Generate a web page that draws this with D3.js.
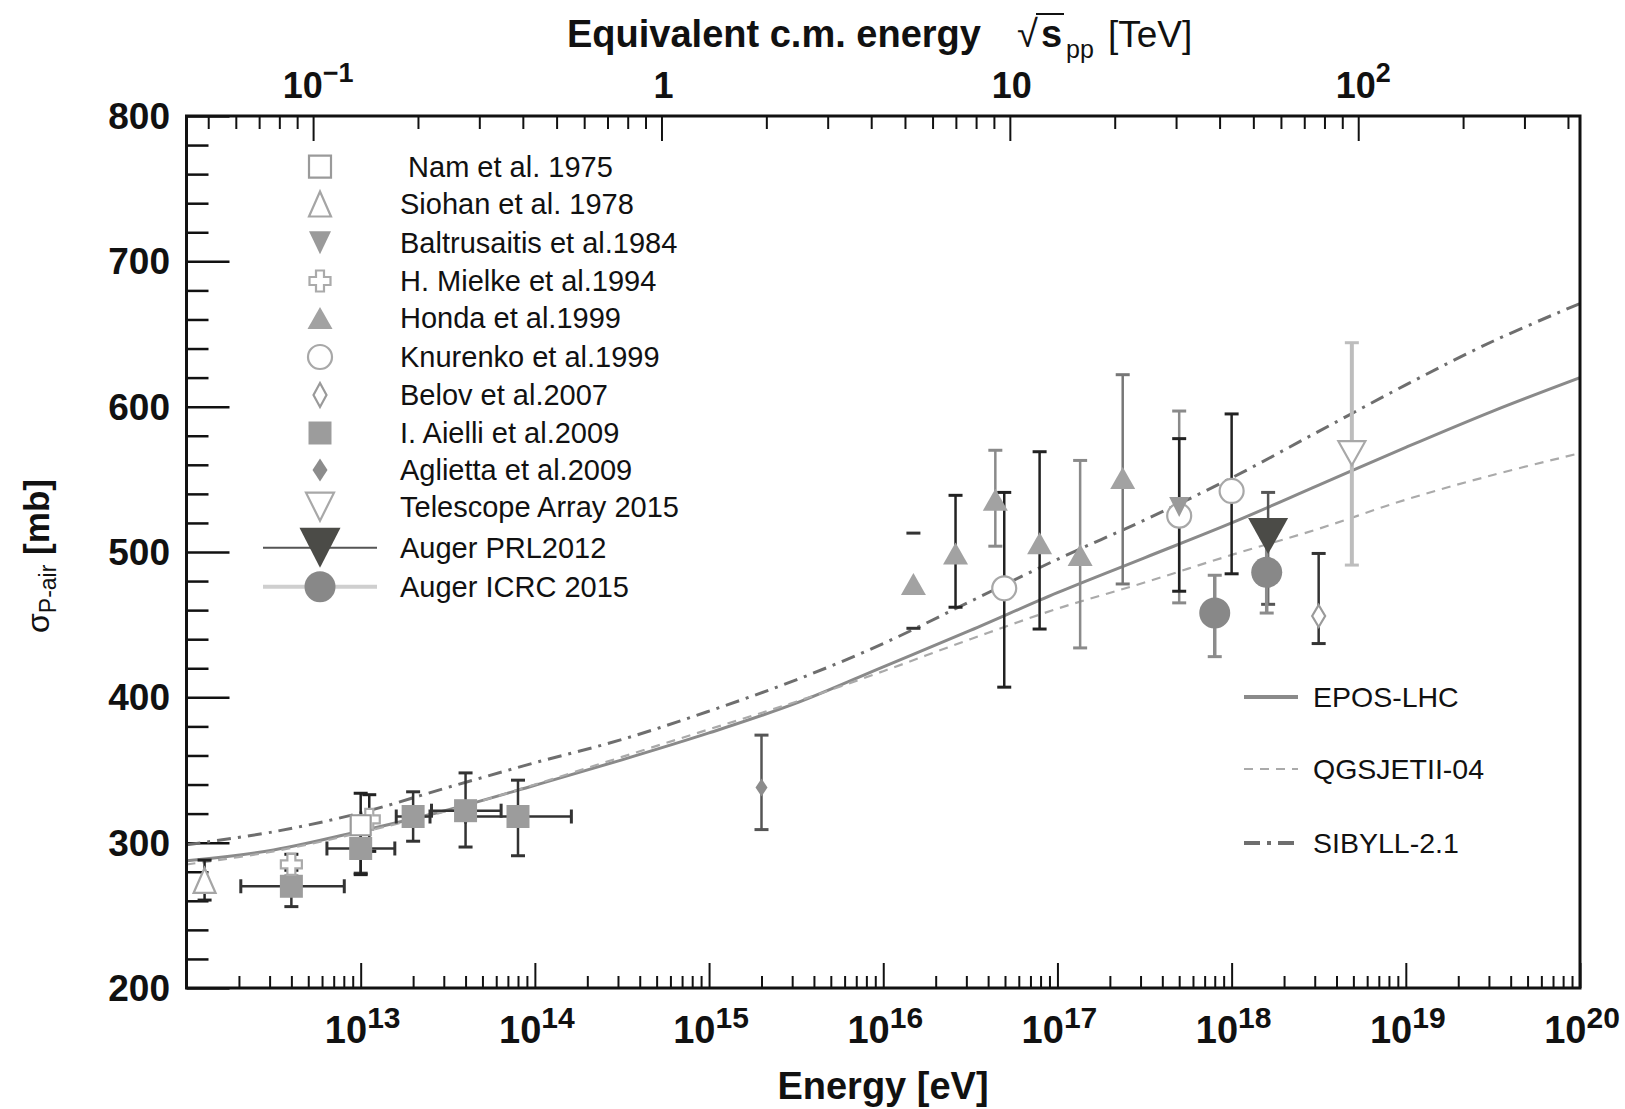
<!DOCTYPE html>
<html><head><meta charset="utf-8">
<script src="https://cdn.jsdelivr.net/npm/d3@7"></script>
<style>
body{margin:0;background:#fff}
svg{display:block}
text{font-family:"Liberation Sans", Arial, Helvetica, sans-serif; fill:#111}
</style>
</head><body>
<svg id="chart" width="1625" height="1109"></svg>
<script>
// ---------------- DATA ----------------
const curveEnergy = [1e12, 3.162e12, 1e13, 3.162e13, 1e14, 3.162e14, 1e15, 3.162e15, 1e16, 3.162e16, 1e17, 3.162e17, 1e18, 3.162e18, 1e19, 3.162e19, 1e20];
const eposLHC    = [287.5, 295, 308, 322.5, 339.5, 357, 375.5, 396, 421, 446, 472, 496, 520, 546, 572, 597, 620];
const qgsjetII04 = [285, 294, 307, 322, 340, 359, 378, 397, 418, 440, 461, 479, 498, 516, 536, 553, 568];
const sibyll21   = [298.5, 307.5, 320.5, 338, 355, 371, 390.5, 412, 437, 466, 495, 522, 551, 583, 615, 645, 671];

const nam1975 = [{E:1.0e13, s:312, lo:278, hi:334}];
const siohan1978 = [{E:1.27e12, s:274, lo:260.5, hi:288}];
const baltrusaitis1984 = [{E:5.0e17, s:531, lo:465, hi:597}];
const mielke1994 = [{E:4.0e12, s:285, lo:281, hi:292}, {E:1.12e13, s:316, lo:294, hi:333}];
const honda1999 = [
  {E:1.49e16, s:478, lo:447.5, hi:513},
  {E:2.6e16, s:499, lo:462, hi:539},
  {E:4.4e16, s:536, lo:504, hi:570},
  {E:7.9e16, s:506, lo:447, hi:569},
  {E:1.35e17, s:498, lo:434, hi:563},
  {E:2.37e17, s:551, lo:478, hi:622}
];
const knurenko1999 = [
  {E:4.95e16, s:475, lo:407, hi:541},
  {E:5.0e17, s:525, lo:473, hi:578},
  {E:1.0e18, s:542, lo:485, hi:595}
];
const belov2007 = [{E:3.16e18, s:456, lo:437, hi:499}];
const aielli2009 = [
  {E:4.0e12, s:270, lo:256, hi:277, Elo:2.05e12, Ehi:8.05e12},
  {E:1.0e13, s:296, lo:279, hi:313, Elo:6.4e12, Ehi:1.57e13},
  {E:2.0e13, s:318, lo:301, hi:335, Elo:1.6e13, Ehi:2.5e13},
  {E:4.0e13, s:322, lo:297, hi:348, Elo:2.55e13, Ehi:6.4e13},
  {E:8.0e13, s:318, lo:291, hi:343, Elo:4.0e13, Ehi:1.62e14}
];
const aglietta2009 = [{E:2.0e15, s:338, lo:309, hi:374}];
const telescopeArray2015 = [{E:4.9e18, s:568, lo:491, hi:644}];
const augerPRL2012 = [{E:1.62e18, s:511, lo:464, hi:541}];
const augerICRC2015 = [{E:8.0e17, s:458, lo:428, hi:484}, {E:1.59e18, s:486, lo:458, hi:510}];

const legendLabels = [" Nam et al. 1975", "Siohan et al. 1978", "Baltrusaitis et al.1984", "H. Mielke et al.1994",
  "Honda et al.1999", "Knurenko et al.1999", "Belov et al.2007", "I. Aielli et al.2009", "Aglietta et al.2009",
  "Telescope Array 2015", "Auger PRL2012", "Auger ICRC 2015"];
const modelLabels = ["EPOS-LHC", "QGSJETII-04", "SIBYLL-2.1"];
const bottomTickExponents = [13, 14, 15, 16, 17, 18, 19, 20];
const topTickValues = [0.1, 1, 10, 100];
const topTickLabels = [["10", "\u22121"], ["1", ""], ["10", ""], ["10", "2"]];
const yTickValues = [200, 300, 400, 500, 600, 700, 800];

// ---------------- LAYOUT ----------------
const svg = d3.select("#chart");
const L = 186.5, R = 1580, T = 116, B = 988;
const x = d3.scaleLog().domain([1e12, 1e20]).range([L, R]);
const y = d3.scaleLinear().domain([200, 800]).range([B, T]);
const MP = 0.938e9; // proton mass, eV
const xTop = d3.scaleLog().domain([Math.sqrt(2*MP*1e12)/1e12, Math.sqrt(2*MP*1e20)/1e12]).range([L, R]);

svg.append("rect").attr("width",1625).attr("height",1109).attr("fill","#fff");

// ---------------- AXES ----------------
function styleAxis(g, w){ g.selectAll(".domain").remove(); g.selectAll("line").attr("stroke","#111").attr("stroke-width", w); g.selectAll("text").remove(); }

const bottomMajor = d3.range(12, 21).map(e => Math.pow(10, e));
const bottomMinor = [];
for (let e = 12; e < 20; e++) for (let k = 2; k <= 9; k++) bottomMinor.push(k*Math.pow(10, e));
svg.append("g").attr("transform", `translate(0,${B})`)
  .call(d3.axisBottom(x).tickValues(bottomMajor).tickSizeInner(-25).tickSizeOuter(0).tickFormat(""))
  .call(g => styleAxis(g, 2));
svg.append("g").attr("transform", `translate(0,${B})`)
  .call(d3.axisBottom(x).tickValues(bottomMinor).tickSizeInner(-12).tickSizeOuter(0).tickFormat(""))
  .call(g => styleAxis(g, 2));

const [t0, t1] = xTop.domain();
const topMinor = [];
for (let e = -2; e <= 2; e++) for (let k = 2; k <= 9; k++) { const v = k*Math.pow(10, e); if (v > t0 && v < t1) topMinor.push(v); }
svg.append("g").attr("transform", `translate(0,${T})`)
  .call(d3.axisTop(xTop).tickValues(topTickValues).tickSizeInner(-25).tickSizeOuter(0).tickFormat(""))
  .call(g => styleAxis(g, 2));
svg.append("g").attr("transform", `translate(0,${T})`)
  .call(d3.axisTop(xTop).tickValues(topMinor).tickSizeInner(-13).tickSizeOuter(0).tickFormat(""))
  .call(g => styleAxis(g, 2));

const yMinor = d3.range(220, 800, 20).filter(v => v % 100 !== 0);
svg.append("g").attr("transform", `translate(${L},0)`)
  .call(d3.axisLeft(y).tickValues(yTickValues).tickSizeInner(-43).tickSizeOuter(0).tickFormat(""))
  .call(g => styleAxis(g, 2.5));
svg.append("g").attr("transform", `translate(${L},0)`)
  .call(d3.axisLeft(y).tickValues(yMinor).tickSizeInner(-22).tickSizeOuter(0).tickFormat(""))
  .call(g => styleAxis(g, 2.5));

// tick labels
svg.append("g").selectAll("text").data(yTickValues).join("text")
  .attr("x", 170).attr("y", d => y(d) + 13).attr("text-anchor", "end")
  .attr("font-size", 37).attr("font-weight", "bold").text(d => d);

const bl = svg.append("g").selectAll("text").data(bottomTickExponents).join("text")
  .attr("x", d => x(Math.pow(10, d)) + 2).attr("y", 1043).attr("text-anchor", "middle").attr("font-weight", "bold");
bl.append("tspan").attr("font-size", 38).text("10");
bl.append("tspan").attr("font-size", 30).attr("dy", -15).text(d => d);

const tl = svg.append("g").selectAll("text").data(topTickValues).join("text")
  .attr("x", (d, i) => xTop(d) + (topTickLabels[i][1] ? 5 : 2)).attr("y", 98).attr("text-anchor", "middle").attr("font-weight", "bold");
tl.append("tspan").attr("font-size", 36).text((d, i) => topTickLabels[i][0]);
tl.append("tspan").attr("font-size", 27).attr("dy", -16).text((d, i) => topTickLabels[i][1]);

// axis titles
svg.append("text").attr("x", 883).attr("y", 1099).attr("text-anchor", "middle")
  .attr("font-size", 38).attr("font-weight", "bold").text("Energy [eV]");

const tt = svg.append("text").attr("x", 567).attr("y", 47).attr("font-size", 38);
tt.append("tspan").attr("font-weight", "bold").text("Equivalent c.m. energy");
tt.append("tspan").attr("x", 1017).attr("font-weight", "normal").text("\u221A");
tt.append("tspan").attr("x", 1041).attr("font-weight", "bold").text("s");
tt.append("tspan").attr("x", 1066).attr("dy", 11).attr("font-size", 25).text("pp");
tt.append("tspan").attr("x", 1108).attr("dy", -11).attr("font-size", 37).text("[TeV]");
svg.append("line").attr("x1", 1036).attr("x2", 1064).attr("y1", 14).attr("y2", 14).attr("stroke", "#111").attr("stroke-width", 2);

const yl = svg.append("text").attr("transform", "translate(49,556) rotate(-90)").attr("text-anchor", "middle");
yl.append("tspan").attr("font-size", 32).text("\u03C3");
yl.append("tspan").attr("font-size", 23).attr("dy", 7).text("P-air");
yl.append("tspan").attr("font-size", 35).attr("dy", -7).attr("font-weight", "bold").text(" [mb]");

// ---------------- MODEL CURVES ----------------
const clip = svg.append("defs").append("clipPath").attr("id", "plot");
clip.append("rect").attr("x", L).attr("y", T).attr("width", R - L).attr("height", B - T);
const line = vals => d3.line().curve(d3.curveCatmullRom.alpha(0.5)).x((d, i) => x(curveEnergy[i])).y(d => y(d))(vals);
const cg = svg.append("g").attr("clip-path", "url(#plot)");
const modelStyles = [
  {vals: eposLHC, color: "#8a8a8a", w: 3, dash: null},
  {vals: qgsjetII04, color: "#aaaaaa", w: 2.2, dash: "9,7"},
  {vals: sibyll21, color: "#6e6e6e", w: 3, dash: "14,7,3,7"}
];
modelStyles.forEach(m => cg.append("path").attr("d", line(m.vals)).attr("fill", "none")
  .attr("stroke", m.color).attr("stroke-width", m.w).attr("stroke-dasharray", m.dash));

// ---------------- MARKERS ----------------
function markerPath(type, a, b) {
  switch (type) {
    case "square": return `M${-a/2},${-a/2}h${a}v${a}h${-a}Z`;
    case "triUp": return `M0,${-b/2}L${a/2},${b/2}L${-a/2},${b/2}Z`;
    case "triDown": return `M0,${b/2}L${a/2},${-b/2}L${-a/2},${-b/2}Z`;
    case "diamond": return `M0,${-b/2}L${a/2},0L0,${b/2}L${-a/2},0Z`;
    case "cross": { const h = a/2, t = b/2;
      return `M${-t},${-h}H${t}V${-t}H${h}V${t}H${t}V${h}H${-t}V${t}H${-h}V${-t}H${-t}Z`; }
    case "circle": return d3.symbol(d3.symbolCircle, Math.PI*a*a/4)();
  }
}
const series = {
  nam:   {data: nam1975, type: "square", a: 20, fill: "#fff", stroke: "#9a9a9a", bar: "#222"},
  siohan:{data: siohan1978, type: "triUp", a: 22, b: 25, fill: "#fff", stroke: "#a5a5a5", bar: "#222"},
  balt:  {data: baltrusaitis1984, type: "triDown", a: 20, b: 20, fill: "#9a9a9a", stroke: "none", bar: "#8a8a8a"},
  mielke:{data: mielke1994, type: "cross", a: 21, b: 8, fill: "#fff", stroke: "#aaaaaa", bar: "#222"},
  honda: {data: honda1999, type: "triUp", a: 25, b: 22, fill: "#a2a2a2", stroke: "none", bar: ["none", "#222", "#8a8a8a", "#222", "#8a8a8a", "#777"]},
  knur:  {data: knurenko1999, type: "circle", a: 24, fill: "#fff", stroke: "#a8a8a8", bar: "#222"},
  belov: {data: belov2007, type: "diamond", a: 13, b: 22, fill: "#fff", stroke: "#9a9a9a", bar: "#333"},
  aielli:{data: aielli2009, type: "square", a: 23, fill: "#9c9c9c", stroke: "none", bar: "#333"},
  aglie: {data: aglietta2009, type: "diamond", a: 12, b: 18, fill: "#8c8c8c", stroke: "none", bar: "#555"},
  ta:    {data: telescopeArray2015, type: "triDown", a: 27, b: 24, fill: "#fff", stroke: "#a8a8a8", bar: "#bdbdbd", barW: 4},
  prl:   {data: augerPRL2012, type: "triDown", a: 40, b: 36, fill: "#4b4b47", stroke: "none", bar: "#555"},
  icrc:  {data: augerICRC2015, type: "circle", a: 31, fill: "#888", stroke: "none", bar: "#8c8c8c", barW: 3.5}
};
const barOrder = ["aielli", "siohan", "mielke", "nam", "aglie", "honda", "balt", "knur", "belov", "ta", "prl", "icrc"];
const markerOrder = ["aielli", "siohan", "mielke", "nam", "aglie", "honda", "knur", "balt", "belov", "ta", "prl", "icrc"];

const eg = svg.append("g");
barOrder.forEach(k => {
  const s = series[k];
  s.data.forEach((d, i) => {
    const col = Array.isArray(s.bar) ? s.bar[i] : s.bar;
    const capCol = col === "none" ? "#333" : col;
    const w = s.barW || 2.5;
    const cx = x(d.E);
    if (col !== "none") eg.append("line").attr("x1", cx).attr("x2", cx).attr("y1", y(d.lo)).attr("y2", y(d.hi)).attr("stroke", col).attr("stroke-width", w);
    [d.lo, d.hi].forEach(v => eg.append("line").attr("x1", cx - 7).attr("x2", cx + 7).attr("y1", y(v)).attr("y2", y(v)).attr("stroke", capCol).attr("stroke-width", 3));
    if (d.Elo) {
      eg.append("line").attr("x1", x(d.Elo)).attr("x2", x(d.Ehi)).attr("y1", y(d.s)).attr("y2", y(d.s)).attr("stroke", col).attr("stroke-width", w);
      [d.Elo, d.Ehi].forEach(v => eg.append("line").attr("x1", x(v)).attr("x2", x(v)).attr("y1", y(d.s) - 7).attr("y2", y(d.s) + 7).attr("stroke", col).attr("stroke-width", 3));
    }
  });
});
const mg = svg.append("g");
markerOrder.forEach(k => {
  const s = series[k];
  mg.selectAll(null).data(s.data).join("path")
    .attr("transform", d => `translate(${x(d.E)},${y(d.s)})`)
    .attr("d", markerPath(s.type, s.a, s.b))
    .attr("fill", s.fill).attr("stroke", s.stroke).attr("stroke-width", 2.2);
});

// ---------------- FRAME ----------------
svg.append("rect").attr("x", L).attr("y", T).attr("width", R - L).attr("height", B - T)
  .attr("fill", "none").attr("stroke", "#111").attr("stroke-width", 3);

// ---------------- LEGEND (data) ----------------
const legendKeys = ["nam", "siohan", "balt", "mielke", "honda", "knur", "belov", "aielli", "aglie", "ta", "prl", "icrc"];
const legendY = [166.7, 204, 242.7, 281, 318, 357, 395, 433, 470, 506.7, 547.7, 586.7];
const legendSize = {nam: [22], balt: [22, 23], aglie: [15, 23], belov: [13, 24], ta: [28, 28], prl: [41, 40]};
const lg = svg.append("g");
lg.append("line").attr("x1", 263).attr("x2", 377).attr("y1", legendY[10]).attr("y2", legendY[10]).attr("stroke", "#555").attr("stroke-width", 2);
lg.append("line").attr("x1", 263).attr("x2", 377).attr("y1", legendY[11]).attr("y2", legendY[11]).attr("stroke", "#cfcfcf").attr("stroke-width", 4);
legendKeys.forEach((k, i) => {
  const s = series[k];
  const sz = legendSize[k] || [s.a, s.b];
  lg.append("path").attr("transform", `translate(320,${legendY[i]})`)
    .attr("d", markerPath(s.type, sz[0], sz[1]))
    .attr("fill", s.fill).attr("stroke", s.stroke).attr("stroke-width", 2.2);
  lg.append("text").attr("x", 400).attr("y", legendY[i] + 10).attr("font-size", 29)
    .style("white-space", "pre").text(legendLabels[i]);
});

// ---------------- LEGEND (models) ----------------
const modelY = [697, 769, 843];
modelStyles.forEach((m, i) => {
  svg.append("line").attr("x1", 1244).attr("x2", 1298).attr("y1", modelY[i]).attr("y2", modelY[i])
    .attr("stroke", m.color).attr("stroke-width", i === 1 ? 2 : 4).attr("stroke-dasharray", i === 1 ? "9,7" : (i === 2 ? "16,7,4,7" : null));
  svg.append("text").attr("x", 1313).attr("y", modelY[i] + 10).attr("font-size", 28.5).text(modelLabels[i]);
});
</script>
</body></html>
